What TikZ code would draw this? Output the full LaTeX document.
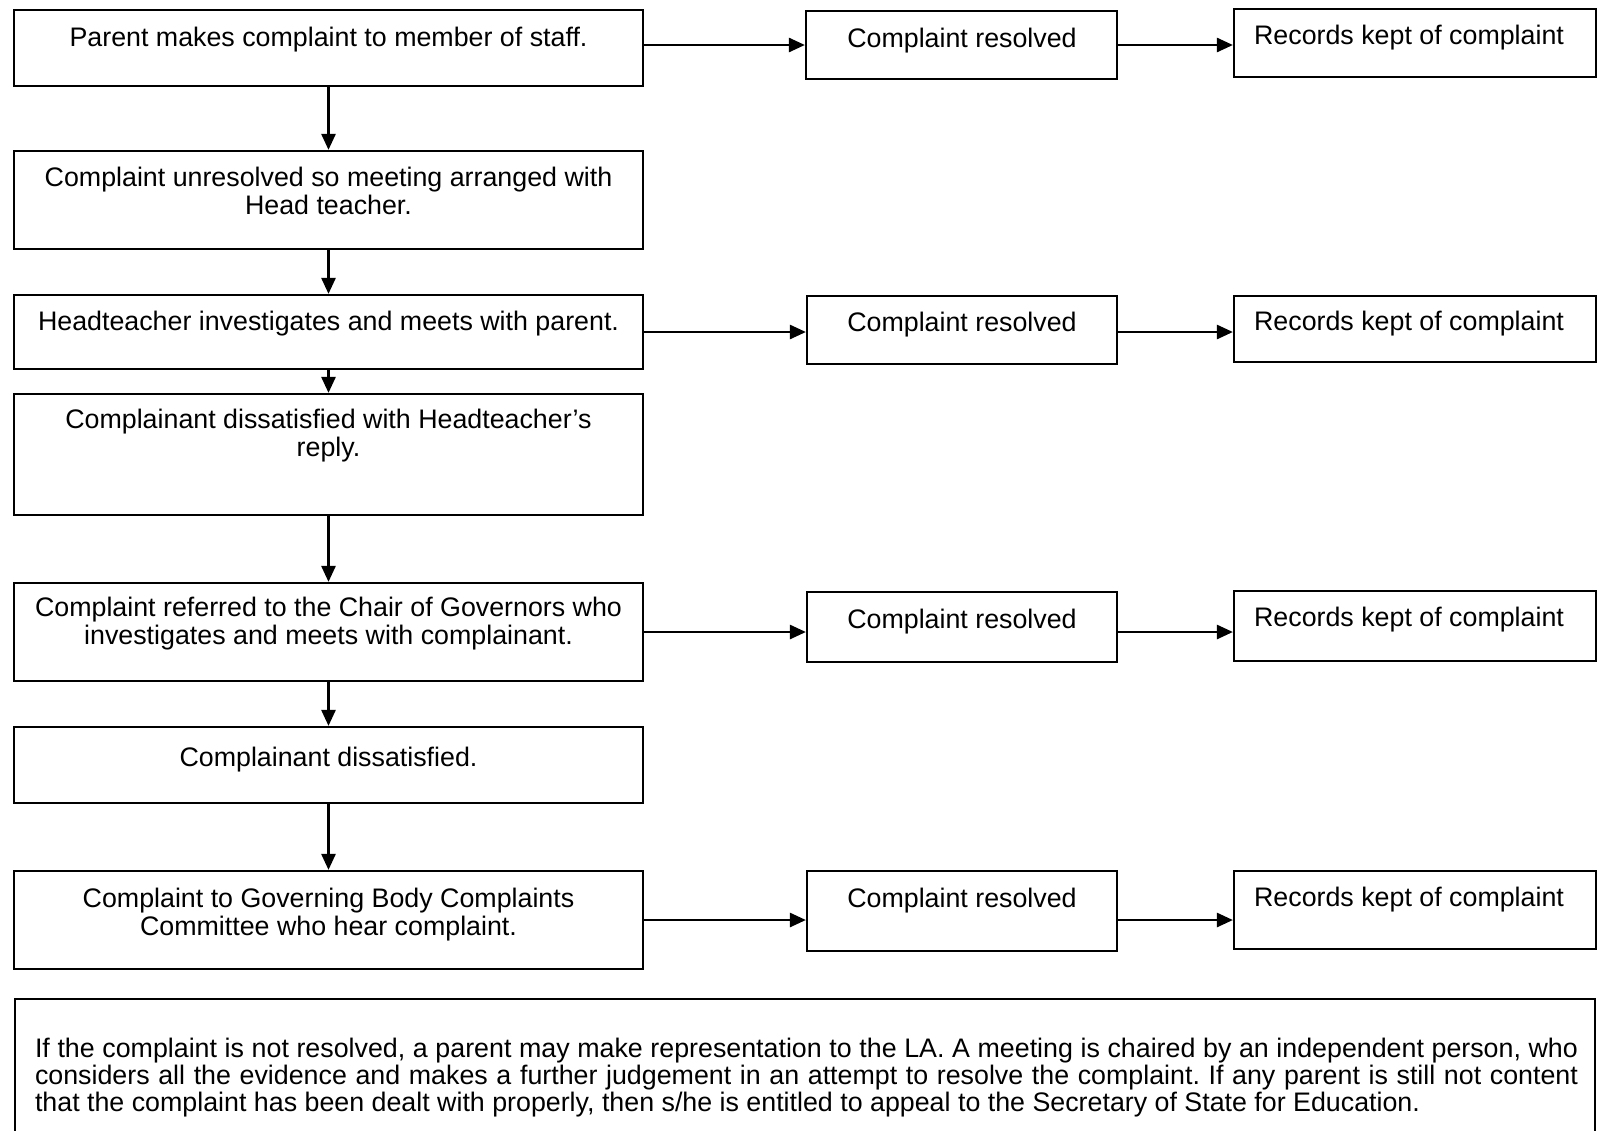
\documentclass[tikz,border=0pt]{standalone}
\usepackage{fontspec}
\setmainfont{Liberation Sans}
\usepackage{tikz}
\usetikzlibrary{arrows.meta,fit}
\definecolor{ink}{HTML}{000000}
\frenchspacing
\tikzset{
  stage/.style={draw=ink, line width=1.1pt, inner sep=0pt},
  lab/.style={text=ink, font=\fontsize{13.4}{14}\selectfont, align=center, anchor=north, inner sep=0pt},
  note/.style={text=ink, font=\fontsize{13.4}{13.5}\selectfont, align=justify, text width=771.5pt, anchor=north west, inner sep=0pt},
  flow/.style={draw=ink, line width=1.3pt, -{Triangle[length=8pt,width=7pt]}},
}
\begin{document}
\begin{tikzpicture}[x=0.5pt, y=-0.5pt]
\useasboundingbox (0,0) rectangle (1598,1130);

% left column
\node[stage, fit={(14,10) (643,86)}]    (b1) {};
\node[stage, fit={(14,151) (643,249)}]  (b2) {};
\node[stage, fit={(14,295) (643,369)}]  (b3) {};
\node[stage, fit={(14,394) (643,515)}]  (b4) {};
\node[stage, fit={(14,583) (643,681)}]  (b5) {};
\node[stage, fit={(14,727) (643,803)}]  (b6) {};
\node[stage, fit={(14,871) (643,969)}]  (b7) {};

\node[lab] (b1t) at (328.5,27)  {Parent makes complaint to member of staff.};
\node[lab] (b2t) at (328.5,167) {Complaint unresolved so meeting arranged with\\Head teacher.};
\node[lab] (b3t) at (328.5,311) {Headteacher investigates and meets with parent.};
\node[lab] (b4t) at (328.5,409) {Complainant dissatisfied with Headteacher's\\reply.};
\node[lab] (b5t) at (328.5,597) {Complaint referred to the Chair of Governors who\\investigates and meets with complainant.};
\node[lab] (b6t) at (328.5,747) {Complainant dissatisfied.};
\node[lab] (b7t) at (328.5,888) {Complaint to Governing Body Complaints\\Committee who hear complaint.};

% resolved / records
\node[stage, fit={(806,11) (1117,79)}]     (r1) {};
\node[stage, fit={(1234,9) (1596,77)}]     (k1) {};
\node[stage, fit={(807,296) (1117,364)}]   (r3) {};
\node[stage, fit={(1234,296) (1596,362)}]  (k3) {};
\node[stage, fit={(807,592) (1117,662)}]   (r5) {};
\node[stage, fit={(1234,591) (1596,661)}]  (k5) {};
\node[stage, fit={(807,871) (1117,951)}]   (r7) {};
\node[stage, fit={(1234,871) (1596,949)}]  (k7) {};

\node[lab] (r1t) at (962,28)   {Complaint resolved};
\node[lab] (k1t) at (1409,25)  {Records kept of complaint};
\node[lab] (r3t) at (962,312)  {Complaint resolved};
\node[lab] (k3t) at (1409,311) {Records kept of complaint};
\node[lab] (r5t) at (962,609)  {Complaint resolved};
\node[lab] (k5t) at (1409,607) {Records kept of complaint};
\node[lab] (r7t) at (962,888)  {Complaint resolved};
\node[lab] (k7t) at (1409,887) {Records kept of complaint};

% downward flow
\draw[flow] (b1.south) -- (b2.north);
\draw[flow] (b2.south) -- (b3.north);
\draw[flow] (b3.south) -- (b4.north);
\draw[flow] (b4.south) -- (b5.north);
\draw[flow] (b5.south) -- (b6.north);
\draw[flow] (b6.south) -- (b7.north);

% sideways flow
\draw[flow] (r1.west -| b1.east) -- (r1.west);
\draw[flow] (r1.east) -- (r1.east -| k1.west);
\draw[flow] (b3.east) -- (b3.east -| r3.west);
\draw[flow] (b3.east -| r3.east) -- (b3.east -| k3.west);
\draw[flow] (b5.east) -- (b5.east -| r5.west);
\draw[flow] (b5.east -| r5.east) -- (b5.east -| k5.west);
\draw[flow] (b7.east) -- (b7.east -| r7.west);
\draw[flow] (b7.east -| r7.east) -- (b7.east -| k7.west);

% LA note, runs past the page edge
\node[stage, fit={(15,999) (1595,1160)}] (la) {};
\node[note] (lat) at (34.6,1038) {If the complaint is not resolved, a parent may make representation to the LA. A meeting is chaired by an independent person, who\linebreak considers all the evidence and makes a further judgement in an attempt to resolve the complaint. If any parent is still not content\linebreak that the complaint has been dealt with properly, then s/he is entitled to appeal to the Secretary of State for Education.};
\end{tikzpicture}
\end{document}
